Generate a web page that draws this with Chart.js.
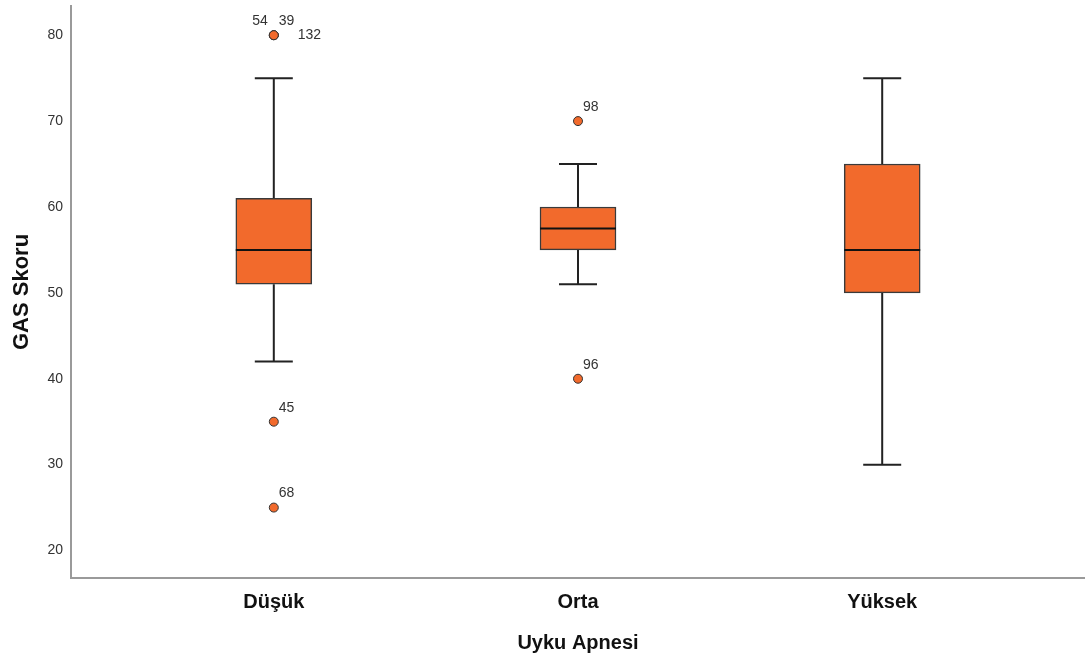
<!DOCTYPE html>
<html>
<head>
<meta charset="utf-8">
<title>GAS Skoru - Uyku Apnesi</title>
<script src="https://cdn.jsdelivr.net/npm/chart.js@4.4.0/dist/chart.umd.min.js"></script>
<style>
  html, body { margin: 0; padding: 0; background: #fff; }
  #wrap { width: 1085px; height: 658px; }
</style>
</head>
<body>
<div id="wrap"><canvas id="boxChart" width="1085" height="658"></canvas></div>
<script>
// ---------------------------------------------------------
// DATA
// ---------------------------------------------------------
const categories = ["Düşük", "Orta", "Yüksek"];
const whiskerLow = [42, 51, 30];
const q1 = [51, 55, 50];
const medians = [55, 57.5, 55];
const q3 = [61, 60, 65];
const whiskerHigh = [75, 65, 75];

// outliers: category index (1-based), value, case label
const outlierCat = [1, 1, 1, 1, 1, 2, 2];
const outlierValues = [80, 80, 80, 35, 25, 70, 40];
const outlierLabels = ["54", "39", "132", "45", "68", "98", "96"];

const yTicks = [20, 30, 40, 50, 60, 70, 80];

// ---------------------------------------------------------
// STYLE
// ---------------------------------------------------------
const ORANGE = "#f26a2c";
const DARK = "#222222";
const FONT = "'Liberation Sans', Arial, sans-serif";

// where each case label sits relative to its point
const labelPlace = ["nw", "ne", "e", "ne", "ne", "ne", "ne"];

// ---------------------------------------------------------
// PLUGIN: whiskers, medians, outlier labels
// ---------------------------------------------------------
const boxParts = {
  id: "boxParts",
  beforeDatasetsDraw(chart) {
    const { ctx } = chart;
    const ys = chart.scales.y;
    const bars = chart.getDatasetMeta(0).data;
    ctx.save();
    ctx.strokeStyle = DARK;
    ctx.lineWidth = 2;
    bars.forEach((bar, i) => {
      const cap = bar.width / 4;
      const yLo = ys.getPixelForValue(whiskerLow[i]);
      const yHi = ys.getPixelForValue(whiskerHigh[i]);
      ctx.beginPath();
      ctx.moveTo(bar.x, ys.getPixelForValue(q3[i]));
      ctx.lineTo(bar.x, yHi);
      ctx.moveTo(bar.x, ys.getPixelForValue(q1[i]));
      ctx.lineTo(bar.x, yLo);
      ctx.moveTo(bar.x - cap, yHi);
      ctx.lineTo(bar.x + cap, yHi);
      ctx.moveTo(bar.x - cap, yLo);
      ctx.lineTo(bar.x + cap, yLo);
      ctx.stroke();
    });
    ctx.restore();
  },
  afterDatasetsDraw(chart) {
    const { ctx } = chart;
    const ys = chart.scales.y;
    const bars = chart.getDatasetMeta(0).data;
    ctx.save();
    ctx.strokeStyle = "#111";
    ctx.lineWidth = 2;
    bars.forEach((bar, i) => {
      const y = ys.getPixelForValue(medians[i]);
      ctx.beginPath();
      ctx.moveTo(bar.x - bar.width / 2, y);
      ctx.lineTo(bar.x + bar.width / 2, y);
      ctx.stroke();
    });

    // case labels
    ctx.font = "14px " + FONT;
    ctx.fillStyle = "#333";
    ctx.textBaseline = "middle";
    chart.getDatasetMeta(1).data.forEach((pt, i) => {
      const p = labelPlace[i];
      if (p === "nw") {
        ctx.textAlign = "right";
        ctx.fillText(outlierLabels[i], pt.x - 6, pt.y - 14);
      } else if (p === "e") {
        ctx.textAlign = "left";
        ctx.fillText(outlierLabels[i], pt.x + 24, pt.y);
      } else {
        ctx.textAlign = "left";
        ctx.fillText(outlierLabels[i], pt.x + 5, pt.y - 14);
      }
    });
    ctx.restore();
  }
};

// ---------------------------------------------------------
// CHART
// ---------------------------------------------------------
new Chart(document.getElementById("boxChart"), {
  type: "bar",
  data: {
    datasets: [
      {
        label: "Kutular",
        data: categories.map((c, i) => ({ x: i + 1, y: [q1[i], q3[i]] })),
        backgroundColor: ORANGE,
        borderColor: "#3a3a3a",
        borderWidth: 1.5,
        borderSkipped: false,
        barThickness: 76
      },
      {
        type: "scatter",
        label: "Aykırı değerler",
        data: outlierValues.map((v, i) => ({ x: outlierCat[i], y: v })),
        backgroundColor: ORANGE,
        borderColor: "#333",
        borderWidth: 1,
        pointRadius: 4.5,
        pointHoverRadius: 4.5
      }
    ]
  },
  options: {
    responsive: false,
    animation: false,
    layout: { autoPadding: false, padding: { top: 6, right: 0, left: 0, bottom: 0 } },
    plugins: {
      legend: { display: false },
      tooltip: { enabled: false }
    },
    scales: {
      x: {
        type: "linear",
        offset: false,
        min: 1 / 3,
        max: 11 / 3,
        afterBuildTicks: s => { s.ticks = categories.map((c, i) => ({ value: i + 1 })); },
        afterFit: s => { s.height = 80; s.paddingLeft = 0; s.paddingRight = 0; },
        grid: { display: false, drawTicks: false },
        border: { display: true, color: "#9a9a9a", width: 2 },
        ticks: {
          padding: 12,
          color: "#111",
          font: { family: FONT, size: 20, weight: "bold" },
          callback: v => categories[v - 1]
        },
        title: {
          display: true,
          text: "Uyku Apnesi",
          color: "#111",
          font: { family: FONT, size: 20, weight: "bold" },
          padding: { top: 0, bottom: 3 }
        }
      },
      y: {
        min: 16.8,
        max: 83.4,
        afterBuildTicks: s => { s.ticks = yTicks.map(v => ({ value: v })); },
        afterFit: s => { s.width = 71; s.paddingTop = 0; s.paddingBottom = 0; },
        grid: { display: false, drawTicks: false },
        border: { display: true, color: "#9a9a9a", width: 2 },
        ticks: {
          padding: 8,
          color: "#333",
          font: { family: FONT, size: 14 }
        },
        title: {
          display: true,
          text: "GAS Skoru",
          color: "#111",
          font: { family: FONT, size: 22, weight: "bold" },
          padding: { top: 9, bottom: 0 }
        }
      }
    }
  },
  plugins: [boxParts]
});
</script>
</body>
</html>
